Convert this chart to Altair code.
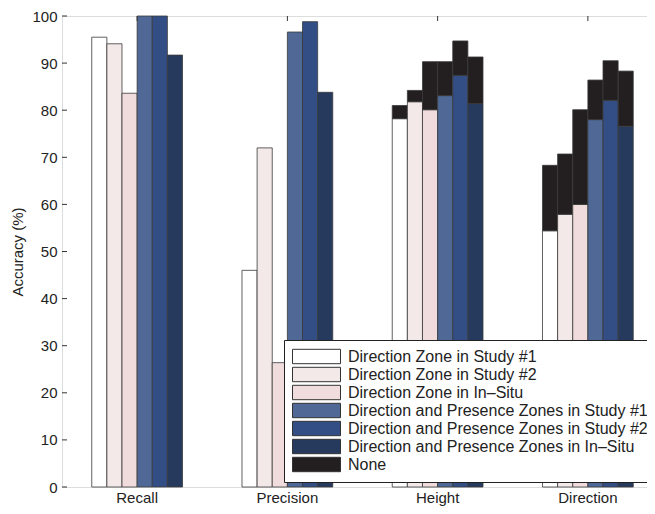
import altair as alt
import pandas as pd

categories = ["Recall", "Precision", "Height", "Direction"]
series = [
    "Direction Zone in Study #1",
    "Direction Zone in Study #2",
    "Direction Zone in In\u2013Situ",
    "Direction and Presence Zones in Study #1",
    "Direction and Presence Zones in Study #2",
    "Direction and Presence Zones in In\u2013Situ",
]
none_label = "None"

# accuracy (%) per category: Recall, Precision, Height, Direction
dz_study1 = [95.5, 46.0, 78.2, 54.4]
dz_study2 = [94.1, 72.0, 81.8, 57.9]
dz_insitu = [83.6, 26.4, 80.1, 60.0]
dp_study1 = [100.0, 96.6, 83.1, 78.0]
dp_study2 = [100.0, 98.8, 87.4, 82.1]
dp_insitu = [91.7, 83.8, 81.4, 76.6]

# stacked totals including "None" (Height, Direction)
none_categories = ["Height", "Direction"]
none_study1 = [81.0, 68.3]
none_study2 = [84.2, 70.7]
none_insitu = [90.3, 80.1]
none_dp1 = [90.3, 86.4]
none_dp2 = [94.7, 90.5]
none_dp3 = [91.3, 88.3]

colors = ["#ffffff", "#f4e9e9", "#f0dcdc", "#4f6896", "#334e85", "#263a5e", "#231f20"]
y_ticks = list(range(0, 101, 10))

values = [dz_study1, dz_study2, dz_insitu, dp_study1, dp_study2, dp_insitu]
totals = [none_study1, none_study2, none_insitu, none_dp1, none_dp2, none_dp3]

rows = []
for s, vals, tots in zip(series, values, totals):
    for c, v in zip(categories, vals):
        rows.append({"cat": c, "series": s, "key": s, "y0": 0.0, "y1": v})
        if c in none_categories:
            t = tots[none_categories.index(c)]
            rows.append({"cat": c, "series": s, "key": none_label, "y0": v, "y1": t})
df = pd.DataFrame(rows)

W, H = 601, 471
FONT = "Liberation Sans"

xscale = alt.Scale(domain=categories, paddingInner=0.396, paddingOuter=0.198)
yscale = alt.Scale(domain=[0, 100], nice=False)

bars = alt.Chart(df).mark_bar(stroke="#3a3a3a", strokeWidth=0.8).encode(
    x=alt.X("cat:N", scale=xscale, sort=categories,
            axis=alt.Axis(title=None, labelAngle=0, ticks=False, domain=False,
                          labelPadding=3, labelFontSize=15, labelFont=FONT,
                          labelColor="#222")),
    xOffset=alt.XOffset("series:N", sort=series,
                        scale=alt.Scale(domain=series, paddingInner=0, paddingOuter=0)),
    y=alt.Y("y1:Q", scale=yscale,
            axis=alt.Axis(title="Accuracy (%)", values=y_ticks, ticks=False, domain=False,
                          grid=False, labelPadding=5, labelFontSize=15, labelFont=FONT,
                          labelColor="#222", titleFont=FONT, titleFontSize=15,
                          titleFontWeight="normal", titleColor="#222", titlePadding=6)),
    y2="y0:Q",
    color=alt.Color("key:N", scale=alt.Scale(domain=series + [none_label], range=colors),
                    legend=alt.Legend(
                        title=None, orient="none", legendX=222, legendY=324,
                        fillColor="white", strokeColor="#222", padding=8,
                        symbolType="M-1,-0.9L5,-0.9L5,0.9L-1,0.9Z", symbolSize=256,
                        symbolStrokeColor="#333", symbolStrokeWidth=1,
                        symbolOpacity=1, labelOffset=39, rowPadding=-2.7,
                        labelFontSize=16, labelFont=FONT, labelColor="#222",
                        labelLimit=400)),
)

tick_df = pd.DataFrame({"v": y_ticks})
left_ticks = alt.Chart(tick_df).mark_rule(color="#333", strokeWidth=1).encode(
    y=alt.Y("v:Q", scale=yscale), x=alt.value(0), x2=alt.value(5))
right_ticks = alt.Chart(tick_df).mark_rule(color="#333", strokeWidth=1).encode(
    y=alt.Y("v:Q", scale=yscale), x=alt.value(W - 5), x2=alt.value(W))

cat_df = pd.DataFrame({"cat": categories})
top_ticks = alt.Chart(cat_df).mark_rule(color="#333", strokeWidth=1).encode(
    x=alt.X("cat:N", scale=xscale, sort=categories, bandPosition=0.5),
    y=alt.value(0), y2=alt.value(5))

chart = alt.layer(bars, left_ticks, right_ticks, top_ticks).properties(
    width=W, height=H,
    autosize=alt.AutoSizeParams(type="none"),
    padding={"left": 54, "top": 8, "right": -16, "bottom": 19},
).configure_view(stroke="#333", strokeWidth=1.4).configure(background="white")

chart.save("out.html", embed_options={"renderer": "svg", "actions": False})
